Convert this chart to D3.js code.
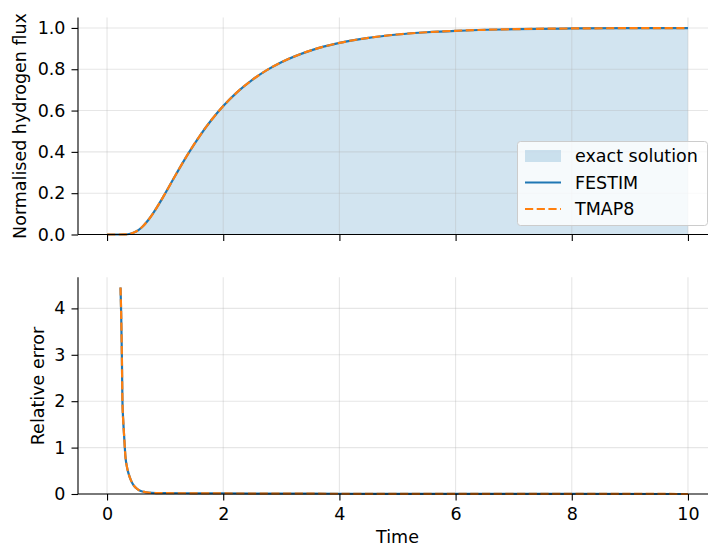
<!DOCTYPE html>
<html><head><meta charset="utf-8">
<script src="https://cdn.jsdelivr.net/npm/d3@7"></script>
<style>body{margin:0;background:#fff}svg{display:block;font-family:"DejaVu Sans",sans-serif}</style>
</head><body><svg id="c" width="708" height="545"></svg>
<script>
// ---- data ----
const fluxTime = [0,0.2,0.3,0.4,0.5,0.6,0.7,0.8,0.9,1.0,1.2,1.4,1.6,1.8,2.0,2.25,2.5,2.75,3.0,3.5,4,4.5,5,5.5,6,7,8,9,10];
const exactFlux = [0,0.000003,0.00035,0.0036,0.0143,0.0352,0.0663,0.1055,0.1504,0.1986,0.2976,0.3926,0.4791,0.5553,0.6216,0.6916,0.7487,0.7956,0.8338,0.8902,0.9274,0.9520,0.9683,0.9791,0.9862,0.9940,0.9974,0.9989,0.9995];
const festimFlux = [0,0.000003,0.00035,0.0036,0.0143,0.0352,0.0663,0.1055,0.1504,0.1986,0.2976,0.3926,0.4791,0.5553,0.6216,0.6916,0.7487,0.7956,0.8338,0.8902,0.9274,0.9520,0.9683,0.9791,0.9862,0.9940,0.9974,0.9989,0.9995];
const tmap8Flux = [0,0.000003,0.00035,0.0036,0.0143,0.0352,0.0663,0.1055,0.1504,0.1986,0.2976,0.3926,0.4791,0.5553,0.6216,0.6916,0.7487,0.7956,0.8338,0.8902,0.9274,0.9520,0.9683,0.9791,0.9862,0.9940,0.9974,0.9989,0.9995];
const errTime = [0.232,0.243,0.255,0.265,0.28,0.295,0.317,0.34,0.368,0.41,0.455,0.5,0.57,0.64,0.71,0.85,1.0,1.5,2,3,4,5,6,8,10];
const festimErr = [4.45,3.9,3.0,2.0,1.55,1.23,0.80,0.6,0.45,0.3,0.19,0.13,0.07,0.045,0.03,0.02,0.018,0.015,0.012,0.008,0.005,0.003,0.002,0.001,0.0005];
const tmap8Err = [4.45,3.9,3.0,2.0,1.55,1.23,0.80,0.6,0.45,0.3,0.19,0.13,0.07,0.045,0.03,0.02,0.018,0.015,0.012,0.008,0.005,0.003,0.002,0.001,0.0005];
const xTicks = [0,2,4,6,8,10];
const fluxTicks = [0,0.2,0.4,0.6,0.8,1.0];
const errTicks = [0,1,2,3,4];
const legendLabels = ["exact solution","FESTIM","TMAP8"];

// ---- layout ----
const svg = d3.select("#c");
const L = 78, R = 717;
const blue = "#1f77b4", orange = "#ff7f0e";
const FS = 17.5;
const x = d3.scaleLinear().domain([-0.5,10.5]).range([L,R]);
const yTop = d3.scaleLinear().domain([0,1.05]).range([234.5,17.6]);
const yBot = d3.scaleLinear().domain([0,4.67]).range([494,277.3]);

function drawGrid(y, yTicks){
  const [y0,y1] = y.range();
  const gg = svg.append("g");
  xTicks.forEach(t=>gg.append("line").attr("x1",x(t)).attr("x2",x(t)).attr("y1",y0).attr("y2",y1)
    .attr("stroke","#b0b0b0").attr("stroke-opacity",0.32).attr("stroke-width",1.1));
  yTicks.forEach(t=>gg.append("line").attr("x1",L).attr("x2",R).attr("y1",y(t)).attr("y2",y(t))
    .attr("stroke","#b0b0b0").attr("stroke-opacity",0.32).attr("stroke-width",1.1));
}
function drawAxes(y, yTicks, fmt, showX){
  const [y0,y1] = y.range();
  const ax = d3.axisLeft(y).tickValues(yTicks).tickFormat(fmt).tickSize(6.5).tickPadding(6);
  const ga = svg.append("g").attr("transform",`translate(${L},0)`).call(ax);
  ga.select(".domain").attr("stroke","#000").attr("stroke-width",1.1).attr("d",`M0,${y0}V${y1}`);
  ga.selectAll(".tick line").attr("stroke","#000").attr("stroke-width",1.1);
  ga.selectAll(".tick text").attr("font-size",FS).attr("fill","#000").attr("font-family","DejaVu Sans");
  const bx = d3.axisBottom(x).tickValues(xTicks).tickFormat(showX? d3.format("d") : "").tickSize(6.5).tickPadding(7.5);
  const gb = svg.append("g").attr("transform",`translate(0,${y0})`).call(bx);
  gb.select(".domain").attr("stroke","#000").attr("stroke-width",1.1).attr("d",`M${L},0H${R}`);
  gb.selectAll(".tick line").attr("stroke","#000").attr("stroke-width",1.1);
  gb.selectAll(".tick text").attr("font-size",FS).attr("fill","#000").attr("font-family","DejaVu Sans");
}

// ---- top panel ----
const topData = fluxTime.map((t,i)=>({t, e:exactFlux[i], f:festimFlux[i], m:tmap8Flux[i]}));
svg.append("path").datum(topData)
  .attr("d", d3.area().x(d=>x(d.t)).y0(yTop(0)).y1(d=>yTop(d.e)).curve(d3.curveMonotoneX))
  .attr("fill", blue).attr("fill-opacity",0.2);
drawGrid(yTop, fluxTicks);
svg.append("path").datum(topData)
  .attr("d", d3.line().x(d=>x(d.t)).y(d=>yTop(d.f)).curve(d3.curveMonotoneX))
  .attr("fill","none").attr("stroke",blue).attr("stroke-width",2.2);
svg.append("path").datum(topData)
  .attr("d", d3.line().x(d=>x(d.t)).y(d=>yTop(d.m)).curve(d3.curveMonotoneX))
  .attr("fill","none").attr("stroke",orange).attr("stroke-width",2.2).attr("stroke-dasharray","8.2,3.5");
drawAxes(yTop, fluxTicks, d3.format(".1f"), false);

// ---- bottom panel ----
const botData = errTime.map((t,i)=>({t, f:festimErr[i], m:tmap8Err[i]}));
drawGrid(yBot, errTicks);
svg.append("path").datum(botData)
  .attr("d", d3.line().x(d=>x(d.t)).y(d=>yBot(d.f)).curve(d3.curveMonotoneX))
  .attr("fill","none").attr("stroke",blue).attr("stroke-width",2.2);
svg.append("path").datum(botData)
  .attr("d", d3.line().x(d=>x(d.t)).y(d=>yBot(d.m)).curve(d3.curveMonotoneX))
  .attr("fill","none").attr("stroke",orange).attr("stroke-width",2.2).attr("stroke-dasharray","8.2,3.5");
drawAxes(yBot, errTicks, d3.format("d"), true);

// ---- labels ----
svg.append("text").attr("transform",`translate(25.5,126) rotate(-90)`).attr("text-anchor","middle")
  .attr("font-size",FS).text("Normalised hydrogen flux");
svg.append("text").attr("transform",`translate(43.5,386) rotate(-90)`).attr("text-anchor","middle")
  .attr("font-size",FS).text("Relative error");
svg.append("text").attr("x",(L+R)/2).attr("y",543).attr("text-anchor","middle")
  .attr("font-size",FS).text("Time");

// ---- legend ----
const lg = svg.append("g");
lg.append("rect").attr("x",517.5).attr("y",141.5).attr("width",190).attr("height",84).attr("rx",3)
  .attr("fill","#fff").attr("fill-opacity",0.8).attr("stroke","#cccccc").attr("stroke-width",1);
const ly = [156,182.5,209];
lg.append("rect").attr("x",525).attr("y",ly[0]-6).attr("width",36).attr("height",12).attr("fill",blue).attr("fill-opacity",0.2);
lg.append("line").attr("x1",525).attr("x2",561).attr("y1",ly[1]).attr("y2",ly[1]).attr("stroke",blue).attr("stroke-width",2.2);
lg.append("line").attr("x1",525).attr("x2",561).attr("y1",ly[2]).attr("y2",ly[2]).attr("stroke",orange).attr("stroke-width",2.2).attr("stroke-dasharray","8.2,3.5");
legendLabels.forEach((s,i)=>lg.append("text").attr("x",575).attr("y",ly[i]).attr("dy","0.35em").attr("font-size",FS).text(s));
</script></body></html>
